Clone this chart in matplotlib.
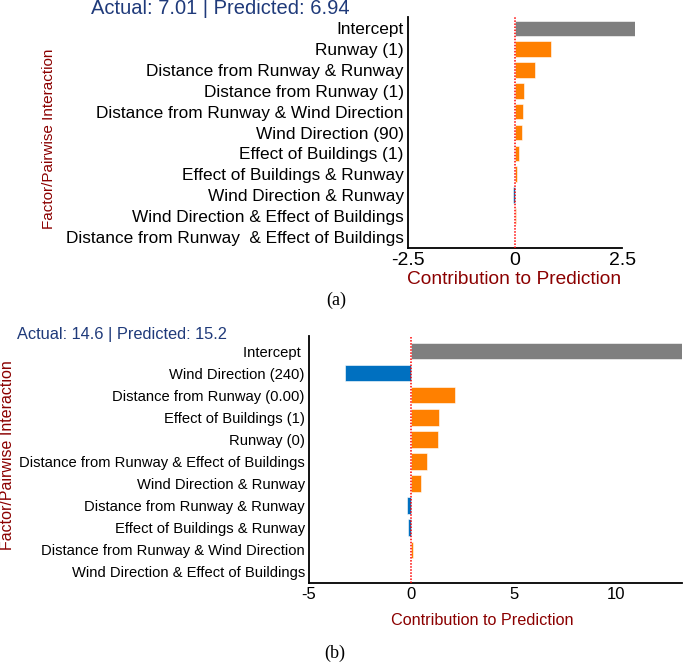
import matplotlib
matplotlib.use("Agg")
import matplotlib.pyplot as plt

plt.rcParams['font.family'] = ['Liberation Sans', 'DejaVu Sans']

# panel (a)
labels_a = ["Intercept", "Runway (1)", "Distance from Runway & Runway", "Distance from Runway (1)",
            "Distance from Runway & Wind Direction", "Wind Direction (90)", "Effect of Buildings (1)",
            "Effect of Buildings & Runway", "Wind Direction & Runway",
            "Wind Direction & Effect of Buildings", "Distance from Runway  & Effect of Buildings"]
values_a = [2.8, 0.84, 0.46, 0.22, 0.18, 0.15, 0.1, 0.05, -0.04, 0.03, 0.0]
ticks_a = [-2.5, 0, 2.5]
title_a = "Actual: 7.01 | Predicted: 6.94"

# panel (b)
labels_b = ["Intercept ", "Wind Direction (240)", "Distance from Runway (0.00)", "Effect of Buildings (1)",
            "Runway (0)", "Distance from Runway & Effect of Buildings", "Wind Direction & Runway",
            "Distance from Runway & Runway", "Effect of Buildings & Runway",
            "Distance from Runway & Wind Direction", "Wind Direction & Effect of Buildings"]
values_b = [13.2, -3.25, 2.1, 1.35, 1.27, 0.78, 0.45, -0.22, -0.17, 0.08, 0.0]
ticks_b = [-5, 0, 5, 10]
title_b = "Actual: 14.6 | Predicted: 15.2"

GREY = "#7f7f7f"
ORANGE = "#ff8000"
BLUE = "#0070c0"
NAVY = "#1f3a7a"
DRED = "#8b0000"

W, H = 685, 663
fig = plt.figure(figsize=(W / 100, H / 100), dpi=100)


def px_axes(x0, x1, y0, y1):
    return fig.add_axes([x0 / W, 1 - y1 / H, (x1 - x0) / W, (y1 - y0) / H])


def panel(ax, labels, values, ticks, xlim, ylim, bounds, fs, tfs):
    colors = []
    for i, v in enumerate(values):
        if i == 0:
            colors.append(GREY)
        elif v < 0:
            colors.append(BLUE)
        else:
            colors.append(ORANGE)
    ax.barh(range(len(values)), values, height=0.75, color=colors, edgecolor="white", linewidth=0.4)
    ax.axvline(0, color="red", linestyle=(0, (1, 1)), linewidth=1.1, zorder=3)
    ax.set_xlim(*xlim)
    ax.set_ylim(*ylim)
    ax.set_yticks(range(len(labels)))
    ax.set_yticklabels(labels, fontsize=fs)
    ax.set_xticks(ticks)
    ax.set_xticklabels([str(t) for t in ticks], fontsize=tfs)
    ax.tick_params(length=0, pad=3)
    for s in ["top", "right"]:
        ax.spines[s].set_visible(False)
    ax.spines["left"].set_linewidth(1.3)
    ax.spines["bottom"].set_linewidth(1.3)
    ax.spines["bottom"].set_bounds(*bounds)


ax1 = px_axes(408, 635, 17, 248)
panel(ax1, labels_a, values_a, ticks_a, (-2.5, 2.8), (10.55, -0.55), (-2.5, 2.5), 12.4, 14)
ax1.set_xlabel("Contribution to Prediction", color=DRED, fontsize=13.8, labelpad=2)
ax1.xaxis.set_label_coords((514 - 408) / 227, -0.1)

ax2 = px_axes(309, 682, 336, 583)
panel(ax2, labels_b, values_b, ticks_b, (-5, 13.2), (10.5, -0.68), (-5, 13.2), 10.6, 12)
ax2.set_xlabel("Contribution to Prediction", color=DRED, fontsize=11.7, labelpad=2)
ax2.xaxis.set_label_coords((482 - 309) / 373, -0.12)

fig.text(91 / W, 1 - 9 / H, title_a, color=NAVY, fontsize=14.5, va="center", ha="left")
fig.text(17 / W, 1 - 335 / H, title_b, color=NAVY, fontsize=11.8, va="center", ha="left")
fig.text(49 / W, 1 - 139 / H, "Factor/Pairwise Interaction", color=DRED, fontsize=11,
         rotation=90, va="center", ha="center")
fig.text(8 / W, 1 - 455 / H, "Factor/Pairwise Interaction", color=DRED, fontsize=11.5,
         rotation=90, va="center", ha="center")
fig.text(336 / W, 1 - 300 / H, "(a)", family="Liberation Serif", fontsize=13, ha="center", va="center")
fig.text(335 / W, 1 - 653 / H, "(b)", family="Liberation Serif", fontsize=13, ha="center", va="center")

fig.savefig("out.png", dpi=100, facecolor="white")
